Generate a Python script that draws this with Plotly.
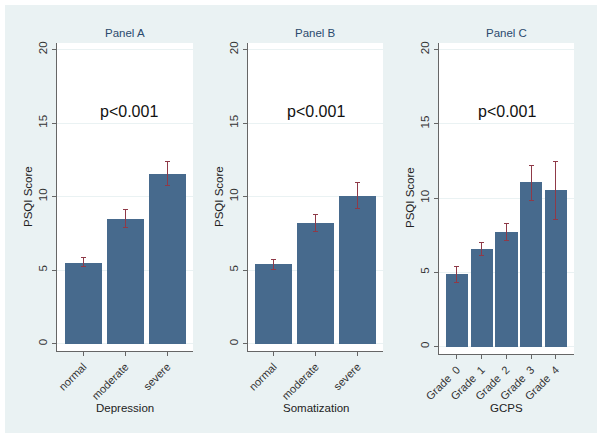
import plotly.graph_objects as go

W, H = 601, 439

# ---- data ----
dep_cats = ["normal", "moderate", "severe"]
dep_mean = [5.48, 8.50, 11.53]
dep_hi = [5.83, 9.12, 12.37]
dep_lo = [5.24, 7.92, 10.73]

som_cats = ["normal", "moderate", "severe"]
som_mean = [5.39, 8.23, 10.05]
som_hi = [5.73, 8.75, 10.94]
som_lo = [5.05, 7.62, 9.20]

gcps_cats = ["Grade  0", "Grade  1", "Grade  2", "Grade  3", "Grade  4"]
gcps_mean = [4.87, 6.55, 7.69, 11.05, 10.52]
gcps_hi = [5.38, 7.00, 8.30, 12.22, 12.44]
gcps_lo = [4.33, 6.15, 7.13, 9.84, 8.57]

panel_titles = ["Panel A", "Panel B", "Panel C"]
x_titles = ["Depression", "Somatization", "GCPS"]
y_title = "PSQI Score"
p_text = "p<0.001"
y_ticks = [0, 5, 10, 15, 20]

BAR = "#476a8d"
ERR = "#8f3a48"
BG = "#eaf2f3"
FONT = "Arial, Liberation Sans, sans-serif"

# pixel geometry of the three plot areas (left, right, top, bottom)
areas = [(57, 193, 43, 351), (248, 383, 43, 351), (439, 574, 43, 354)]
xranges = [[-0.63, 2.61], [-0.61, 2.605], [-0.725, 4.73]]
widths = [0.88, 0.88, 0.9]
ytitle_x = [28, 219, 410]


def px(x):
    return x / W


def py(y):
    return 1 - y / H


fig = go.Figure()
datasets = [(dep_cats, dep_mean, dep_hi, dep_lo),
            (som_cats, som_mean, som_hi, som_lo),
            (gcps_cats, gcps_mean, gcps_hi, gcps_lo)]

shapes = [dict(type="rect", xref="paper", yref="paper", x0=px(5), x1=px(597),
               y0=py(433), y1=py(5), fillcolor=BG, line=dict(width=0), layer="below")]
annotations = []

for i, (cats, mean, hi, lo) in enumerate(datasets):
    sfx = "" if i == 0 else str(i + 1)
    xs = list(range(len(cats)))
    fig.add_trace(go.Bar(
        x=xs, y=mean, width=widths[i], marker=dict(color=BAR, line=dict(width=0)),
        error_y=dict(type="data", symmetric=False,
                     array=[h - m for h, m in zip(hi, mean)],
                     arrayminus=[m - l for m, l in zip(mean, lo)],
                     color=ERR, thickness=1, width=2.5),
        xaxis="x" + sfx, yaxis="y" + sfx, showlegend=False, hoverinfo="skip"))
    l, r, t, b = areas[i]
    fig.layout["xaxis" + sfx] = dict(
        domain=[px(l), px(r)], range=xranges[i], anchor="y" + sfx,
        tickmode="array", tickvals=xs, ticktext=cats, tickangle=-45,
        ticks="outside", ticklen=4, tickcolor="#666", showline=True,
        linecolor="#666", linewidth=1, showgrid=False, zeroline=False,
        automargin=False,
        tickfont=dict(family=FONT, size=11, color="#333"), fixedrange=True)
    fig.layout["yaxis" + sfx] = dict(
        domain=[py(b), py(t)], range=[-0.5, 20.44], anchor="x" + sfx,
        tickmode="array", tickvals=y_ticks, tickangle=-90,
        ticks="outside", ticklen=4, tickcolor="#666", showline=True,
        linecolor="#666", linewidth=1, showgrid=True, gridcolor=BG,
        gridwidth=1, zeroline=False, automargin=False,
        tickfont=dict(family=FONT, size=11.5, color="#333"), fixedrange=True)
    shapes.append(dict(type="rect", xref="paper", yref="paper", x0=px(l), x1=px(r),
                       y0=py(b), y1=py(t), fillcolor="white", line=dict(width=0),
                       layer="below"))
    cx = (l + r) / 2
    common = dict(xref="paper", yref="paper", showarrow=False,
                  xanchor="center", yanchor="middle")
    annotations.append(dict(text=panel_titles[i], x=px(cx), y=py(33),
                            font=dict(family=FONT, size=11.5, color="#2a4a6e"), **common))
    annotations.append(dict(text=x_titles[i], x=px(cx), y=py(408),
                            font=dict(family=FONT, size=11.5, color="#222"), **common))
    annotations.append(dict(text=y_title, x=px(ytitle_x[i]), y=py(197), textangle=-90,
                            font=dict(family=FONT, size=11.5, color="#222"), **common))
    annotations.append(dict(text=p_text, x=(xranges[i][0] + xranges[i][1]) / 2 + (0.1 if i == 0 else 0),
                            y=15.8, xref="x" + sfx, yref="y" + sfx, showarrow=False,
                            xanchor="center", yanchor="middle",
                            font=dict(family=FONT, size=16, color="#111")))

fig.update_layout(
    width=W, height=H, margin=dict(l=0, r=0, t=0, b=0, autoexpand=False),
    paper_bgcolor="white", plot_bgcolor="rgba(0,0,0,0)",
    shapes=shapes, annotations=annotations, bargap=0,
    font=dict(family=FONT), hovermode=False)

fig.write_html("out.html", config={"displayModeBar": False},
               post_script="document.body.style.margin='0';document.body.style.overflow='hidden';")
